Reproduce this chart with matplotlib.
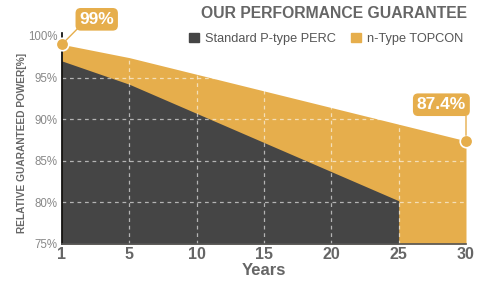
import numpy as np
import matplotlib.pyplot as plt
from matplotlib.patches import Patch

plt.rcParams['font.family'] = ['Liberation Sans', 'DejaVu Sans']

years = [1, 5, 10, 15, 20, 25, 30]
perc = [97.0, 94.2, 90.7, 87.2, 83.7, 80.2]
topcon = [99.0, 97.4, 95.4, 93.4, 91.4, 89.4, 87.4]
yticks = [75, 80, 85, 90, 95, 100]

dark = '#454545'
orange = '#E6AE4C'
grey = '#666666'

W, H = 481, 282
fig = plt.figure(figsize=(W / 100, H / 100), dpi=100)
ax = fig.add_axes([62 / W, 1 - 244 / H, (466 - 62) / W, (244 - 36) / H])

pos = np.arange(len(years))
ax.fill_between(pos, 75, topcon, color=orange, lw=0, zorder=1)
ax.fill_between(pos[:len(perc)], 75, perc, color=dark, lw=0, zorder=2)

ax.set_xlim(pos[0], pos[-1])
ax.set_ylim(75, 100)
ax.set_xticks(pos)
ax.set_xticklabels([str(y) for y in years], fontsize=11.5, fontweight='bold', color=grey)
ax.set_yticks(yticks)
ax.set_yticklabels([f'{y}%' for y in yticks], fontsize=8.3, color='#888888')
ax.tick_params(length=0, pad=3)
ax.tick_params(axis='x', pad=2)

for p in pos[1:-1]:
    ax.axvline(p, color='white', alpha=0.6, lw=0.9, ls=(0, (3, 3)), zorder=3)
for y in yticks[1:-1]:
    ax.axhline(y, color='white', alpha=0.6, lw=0.9, ls=(0, (3, 3)), zorder=3)

for s in ['top', 'right']:
    ax.spines[s].set_visible(False)
ax.spines['left'].set_color('black')
ax.spines['left'].set_linewidth(1.2)
ax.spines['left'].set_bounds(75, 100.4)
ax.spines['bottom'].set_color('#555555')
ax.spines['bottom'].set_linewidth(1.2)
ax.spines['left'].set_zorder(5)
ax.spines['bottom'].set_zorder(5)

ax.set_xlabel('Years', fontsize=12, fontweight='bold', color=grey, labelpad=1)
fig.text(22 / W, 1 - 143 / H, 'RELATIVE GUARANTEED POWER[%]', rotation=90,
         ha='center', va='center', fontsize=7.3, fontweight='bold', color=grey)

# end markers and labels
ax.plot([pos[0], pos[-1]], [topcon[0], topcon[-1]], 'o', ms=9, color=orange,
        mec='white', mew=1.2, clip_on=False, zorder=6)
box = dict(boxstyle='round,pad=0.22,rounding_size=0.3', fc=orange, ec='none')
ax.annotate('99%', xy=(pos[0], topcon[0]), xytext=(25, 18), textcoords='offset points',
            ha='center', va='center', fontsize=12.5, fontweight='bold', color='white',
            bbox=box, annotation_clip=False, zorder=7,
            arrowprops=dict(arrowstyle='-', color=orange, lw=1, relpos=(0, 0),
                            shrinkA=0, shrinkB=4))
ax.annotate('87.4%', xy=(pos[-1], topcon[-1]), xytext=(0, 26), textcoords='offset points',
            ha='right', va='center', fontsize=12.5, fontweight='bold', color='white',
            bbox=box, annotation_clip=False, zorder=7,
            arrowprops=dict(arrowstyle='-', color=orange, lw=1, relpos=(1, 0),
                            shrinkA=0, shrinkB=4))

fig.text(467 / W, 1 - 14 / H, 'OUR PERFORMANCE GUARANTEE', ha='right', va='center',
         fontsize=11.3, fontweight='bold', color=grey)
handles = [Patch(color=dark, label='Standard P-type PERC'),
           Patch(color=orange, label='n-Type TOPCON')]
fig.legend(handles=handles, loc='center right', bbox_to_anchor=(470 / W, 1 - 39 / H),
           ncol=2, frameon=False, fontsize=9.2, handlelength=0.75, handleheight=0.75,
           handletextpad=0.5, columnspacing=1.2, labelcolor='#555555', borderpad=0)

fig.savefig('out.png', dpi=100)
